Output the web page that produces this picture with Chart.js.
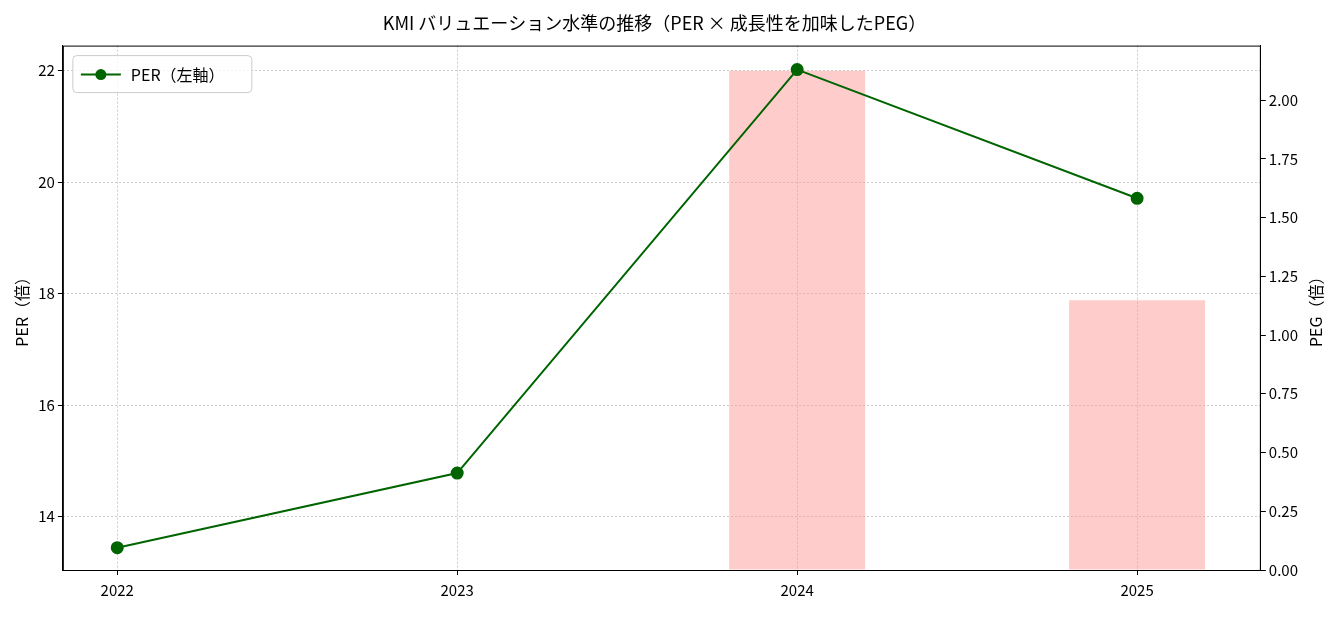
<!DOCTYPE html>
<html><head><meta charset="utf-8">
<script src="https://cdn.jsdelivr.net/npm/chart.js@4"></script>
<style>body{margin:0;background:#fff}#wrap{width:1341px;height:617px}</style>
</head><body><div id="wrap"><canvas id="c"></canvas></div>
<script>
const years = [2022, 2023, 2024, 2025];
const perValues = [13.44, 14.78, 22.02, 19.71];
const pegValues = [null, null, 2.125, 1.148];
const perTicks = [14, 16, 18, 20, 22];
const pegTicks = [0, 0.25, 0.5, 0.75, 1, 1.25, 1.5, 1.75, 2];

const FONT = "'Noto Sans CJK JP', sans-serif";
Chart.defaults.font.family = FONT;
Chart.defaults.font.size = 15;
Chart.defaults.color = "#000";

const extras = {
  id: "extras",
  afterDraw(chart) {
    const c = chart.ctx, a = chart.chartArea;
    c.save();
    // frame
    c.strokeStyle = "#000"; c.lineWidth = 1;
    c.strokeRect(a.left + 0.5, a.top + 0.5, a.right - a.left - 1, a.bottom - a.top);
    // right axis title, bottom-to-top
    c.font = "16px " + FONT; c.fillStyle = "#000";
    c.translate(1316, (a.top + a.bottom) / 2);
    c.rotate(-Math.PI / 2);
    c.textAlign = "center"; c.textBaseline = "middle";
    c.fillText("PEG（倍）", 0, 0);
    c.setTransform(chart.currentDevicePixelRatio, 0, 0, chart.currentDevicePixelRatio, 0, 0);
    // legend
    const x = a.left + 10, y = a.top + 10;
    c.fillStyle = "rgba(255,255,255,0.8)";
    c.strokeStyle = "#ccc";
    c.beginPath(); c.roundRect(x, y, 179, 37, 4); c.fill(); c.stroke();
    c.strokeStyle = "darkgreen"; c.lineWidth = 2;
    c.beginPath(); c.moveTo(x + 8, y + 19); c.lineTo(x + 48, y + 19); c.stroke();
    c.fillStyle = "darkgreen";
    c.beginPath(); c.arc(x + 28, y + 19, 5.5, 0, Math.PI * 2); c.fill();
    c.fillStyle = "#000"; c.font = "16px " + FONT; c.textBaseline = "middle"; c.textAlign = "left";
    c.fillText("PER（左軸）", x + 58, y + 19);
    c.restore();
  }
};

new Chart(document.getElementById("c"), {
  data: {
    datasets: [
      {
        type: "line", label: "PER（左軸）", yAxisID: "y",
        data: years.map((x, i) => ({ x, y: perValues[i] })),
        borderColor: "darkgreen", backgroundColor: "darkgreen",
        borderWidth: 2, pointRadius: 5.5, pointHoverRadius: 5.5, tension: 0, order: 0
      },
      {
        type: "bar", label: "PEG（右軸）", yAxisID: "y1",
        data: years.map((x, i) => ({ x, y: pegValues[i] })),
        backgroundColor: "rgba(255,153,153,0.5)",
        barPercentage: 0.4, categoryPercentage: 1, order: 1
      }
    ]
  },
  options: {
    responsive: true, maintainAspectRatio: false, animation: false,
    layout: { padding: { left: 8, right: 40, top: 4, bottom: 12 } },
    plugins: {
      legend: { display: false }, tooltip: { enabled: false },
      title: { display: true, text: "KMI バリュエーション水準の推移（PER × 成長性を加味したPEG）",
        font: { size: 18, weight: "normal" }, padding: { top: 8, bottom: 12 } }
    },
    scales: {
      x: {
        type: "linear", min: 2021.84, max: 2025.364, offset: false,
        afterBuildTicks: s => { s.ticks = years.map(v => ({ value: v })); },
        ticks: { callback: v => String(v), padding: 6 },
        grid: { offset: false, color: "#ccc", tickColor: "#000", tickLength: 5 },
        border: { color: "#000", dash: [2, 2] }
      },
      y: {
        position: "left", min: 13.04, max: 22.45,
        afterBuildTicks: s => { s.ticks = perTicks.map(v => ({ value: v })); },
        title: { display: true, text: "PER（倍）", font: { size: 16 } },
        grid: { color: "#ccc", tickColor: "#000", tickLength: 5 },
        border: { color: "#000", dash: [2, 2] }
      },
      y1: {
        position: "right", min: 0, max: 2.232,
        afterBuildTicks: s => { s.ticks = pegTicks.map(v => ({ value: v })); },
        ticks: { callback: v => v.toFixed(2) },
        grid: { drawOnChartArea: false, tickColor: "#000", tickLength: 5 },
        border: { color: "#000" }
      }
    }
  },
  plugins: [extras]
});
</script></body></html>
